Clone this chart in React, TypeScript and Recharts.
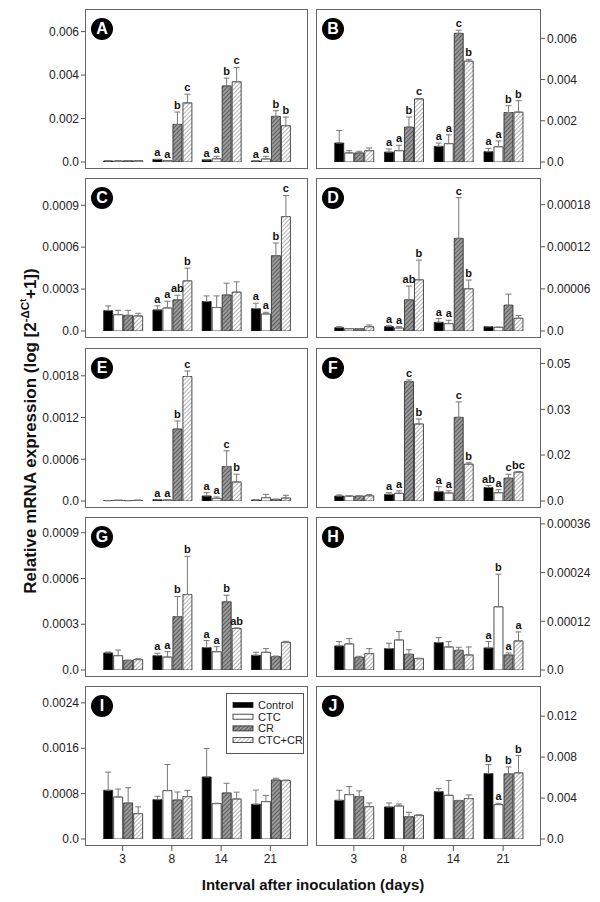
import React from 'react';
import { BarChart, Bar, XAxis, YAxis, ErrorBar, LabelList, Legend } from 'recharts';

const days = ['3', '8', '14', '21'];
const seriesNames = ['Control', 'CTC', 'CR', 'CTC+CR'];
const seriesKeys = ['c', 't', 'r', 'x'];

// rows: Control, CTC, CR, CTC+CR ; columns: day 3, 8, 14, 21
const meanA = [[0.00005, 0.00012, 0.0001, 0.00005], [0.00005, 0.00006, 0.00015, 0.00014], [0.00006, 0.00173, 0.0035, 0.0021], [0.00006, 0.00272, 0.00369, 0.00167]];
const errA = [[0, 0, 0, 0], [0, 0, 0.00011, 0.00012], [0, 0.00057, 0.00036, 0.00026], [0, 0.0004, 0.00066, 0.0004]];
const sigA = [['', 'a', 'a', 'a'], ['', 'a', 'a', 'a'], ['', 'b', 'b', 'b'], ['', 'c', 'c', 'b']];
const ticksA = [0, 0.002, 0.004, 0.006];
const tickTextA = ['0.0', '0.002', '0.004', '0.006'];

const meanB = [[0.00092, 0.00048, 0.00076, 0.0005], [0.00044, 0.00055, 0.00089, 0.00074], [0.00044, 0.00169, 0.00624, 0.0024], [0.00055, 0.00306, 0.00489, 0.00242]];
const errB = [[0.00061, 0.00015, 0.00016, 0.00016], [0.00011, 0.00026, 0.00043, 0.00028], [0.00008, 0.00049, 0.00015, 0.00033], [0.00013, 0.00002, 0.00009, 0.00055]];
const sigB = [['', 'a', 'a', 'a'], ['', 'a', 'a', 'a'], ['', 'b', 'c', 'b'], ['', 'c', 'b', 'b']];
const ticksB = [0, 0.002, 0.004, 0.006];
const tickTextB = ['0.0', '0.002', '0.004', '0.006'];

const meanC = [[0.000146, 0.000151, 0.000211, 0.00016], [0.000117, 0.000165, 0.000168, 0.000122], [0.000112, 0.000223, 0.000258, 0.000539], [0.000108, 0.000359, 0.000278, 0.000819]];
const errC = [[0.000034, 0.000029, 0.00004, 0.000039], [0.000031, 0.000048, 0.000083, 0.000012], [0.000036, 0.000033, 0.000084, 0.000091], [0.000019, 0.000091, 0.000074, 0.000151]];
const sigC = [['', 'a', '', 'a'], ['', 'a', '', 'a'], ['', 'ab', '', 'b'], ['', 'b', '', 'c']];
const ticksC = [0, 0.0003, 0.0006, 0.0009];
const tickTextC = ['0.0', '0.0003', '0.0006', '0.0009'];

const meanD = [[0.0000048, 0.0000062, 0.0000124, 0.0000062], [0.0000033, 0.0000043, 0.0000105, 0.0000053], [0.0000033, 0.0000444, 0.000132, 0.0000368], [0.0000062, 0.000073, 0.0000602, 0.0000181]];
const errD = [[0.0000014, 0.0000014, 0.0000053, 0], [0, 0.0000019, 0.0000048, 0], [0, 0.0000196, 0.000058, 0.0000157], [0.0000024, 0.000028, 0.0000124, 0.0000039]];
const sigD = [['', 'a', 'a', ''], ['', 'a', 'a', ''], ['', 'ab', 'c', ''], ['', 'b', 'b', '']];
const ticksD = [0, 0.00006, 0.00012, 0.00018];
const tickTextD = ['0.0', '0.00006', '0.00012', '0.00018'];

const meanE = [[0.000005, 0.000019, 0.000072, 0.000014], [0.00001, 0.000014, 0.000038, 0.000048], [0.000005, 0.001035, 0.000496, 0.000024], [0.00001, 0.00179, 0.000274, 0.000043]];
const errE = [[0, 0, 0.000048, 0], [0, 0, 0.00002, 0.000048], [0, 0.000115, 0.000226, 0], [0, 0.00008, 0.000111, 0.000039]];
const sigE = [['', 'a', 'a', ''], ['', 'a', 'a', ''], ['', 'b', 'c', ''], ['', 'c', 'b', '']];
const ticksE = [0, 0.0006, 0.0012, 0.0018];
const tickTextE = ['0.0', '0.0006', '0.0012', '0.0018'];

const meanF = [[0.0018, 0.00243, 0.0034, 0.0049], [0.0018, 0.0028, 0.0029, 0.003], [0.0018, 0.0434, 0.0304, 0.0083], [0.0019, 0.028, 0.0134, 0.0105]];
const errF = [[0.0004, 0.0006, 0.0018, 0.0007], [0, 0.0009, 0.0008, 0.0011], [0, 0.0006, 0.0056, 0.0014], [0.0005, 0.0018, 0.0005, 0.0002]];
const sigF = [['', 'a', 'a', 'ab'], ['', 'a', 'a', 'a'], ['', 'c', 'c', 'c'], ['', 'b', 'b', 'bc']];
const ticksF = [0, 0.0167, 0.0333, 0.05];
const tickTextF = ['0.0', '0.02', '0.03', '0.05'];

const meanG = [[0.000112, 0.000094, 0.000147, 0.0000963], [0.000094, 0.000085, 0.00012, 0.000116], [0.0000635, 0.00035, 0.000447, 0.0000876], [0.000068, 0.000495, 0.000272, 0.000182]];
const errG = [[0.000006, 0.000016, 0.000046, 0.00002], [0.000037, 0.000035, 0.000033, 0.000024], [0, 0.000132, 0.000043, 0.000004], [0.000006, 0.00025, 0.000004, 0.000006]];
const sigG = [['', 'a', 'a', ''], ['', 'a', 'a', ''], ['', 'b', 'b', ''], ['', 'b', 'ab', '']];
const ticksG = [0, 0.0003, 0.0006, 0.0009];
const tickTextG = ['0.0', '0.0003', '0.0006', '0.0009'];

const meanH = [[0.0000593, 0.0000527, 0.0000675, 0.0000544], [0.0000643, 0.0000741, 0.0000568, 0.0001557], [0.0000313, 0.0000387, 0.0000486, 0.0000371], [0.0000404, 0.000028, 0.0000371, 0.0000717]];
const errH = [[0.0000107, 0.0000132, 0.0000124, 0.0000156], [0.0000131, 0.0000206, 0.0000132, 0.0000803], [0.0000025, 0.0000113, 0.0000074, 0.0000049], [0.0000123, 0.000001, 0.0000197, 0.0000222]];
const sigH = [['', '', '', 'a'], ['', '', '', 'b'], ['', '', '', 'a'], ['', '', '', 'a']];
const ticksH = [0, 0.00012, 0.00024, 0.00036];
const tickTextH = ['0.0', '0.00012', '0.00024', '0.00036'];

const meanI = [[0.000859, 0.000694, 0.001094, 0.000612], [0.000741, 0.000853, 0.000624, 0.000659], [0.000635, 0.000688, 0.000812, 0.001041], [0.000447, 0.000747, 0.000706, 0.00103]];
const errI = [[0.00032, 0.00006, 0.0005, 0.00025], [0.00014, 0.00046, 0.000006, 0.00011], [0.00027, 0.00014, 0.00017, 0.00003], [0.00012, 0.00011, 0.00012, 0.00001]];
const sigI = [['', '', '', ''], ['', '', '', ''], ['', '', '', ''], ['', '', '', '']];
const ticksI = [0, 0.0008, 0.0016, 0.0024];
const tickTextI = ['0.0', '0.0008', '0.0016', '0.0024'];

const meanJ = [[0.00378, 0.00313, 0.00463, 0.00639], [0.00434, 0.00323, 0.00427, 0.00336], [0.00414, 0.00218, 0.00375, 0.00636], [0.00316, 0.00232, 0.00395, 0.00646]];
const errJ = [[0.00098, 0.00039, 0.00029, 0.00088], [0.00078, 0.00019, 0.00144, 0.00013], [0.00056, 0.00043, 0.00003, 0.00068], [0.00036, 0.00003, 0.00035, 0.00169]];
const sigJ = [['', '', '', 'b'], ['', '', '', 'a'], ['', '', '', 'b'], ['', '', '', 'b']];
const ticksJ = [0, 0.004, 0.008, 0.012];
const tickTextJ = ['0.0', '0.004', '0.008', '0.012'];

const panels = [
  { id: 'A', mean: meanA, err: errA, sig: sigA, ticks: ticksA, tickText: tickTextA, max: 0.00704 },
  { id: 'B', mean: meanB, err: errB, sig: sigB, ticks: ticksB, tickText: tickTextB, max: 0.00742 },
  { id: 'C', mean: meanC, err: errC, sig: sigC, ticks: ticksC, tickText: tickTextC, max: 0.001095 },
  { id: 'D', mean: meanD, err: errD, sig: sigD, ticks: ticksD, tickText: tickTextD, max: 0.000218 },
  { id: 'E', mean: meanE, err: errE, sig: sigE, ticks: ticksE, tickText: tickTextE, max: 0.0022 },
  { id: 'F', mean: meanF, err: errF, sig: sigF, ticks: ticksF, tickText: tickTextF, max: 0.0556 },
  { id: 'G', mean: meanG, err: errG, sig: sigG, ticks: ticksG, tickText: tickTextG, max: 0.001003 },
  { id: 'H', mean: meanH, err: errH, sig: sigH, ticks: ticksH, tickText: tickTextH, max: 0.000377 },
  { id: 'I', mean: meanI, err: errI, sig: sigI, ticks: ticksI, tickText: tickTextI, max: 0.002697 },
  { id: 'J', mean: meanJ, err: errJ, sig: sigJ, ticks: ticksJ, tickText: tickTextJ, max: 0.01495 },
];

const rowTops = [9, 178, 348, 517, 686];
const FONT = '"Liberation Sans", Arial, sans-serif';

function buildRows(mean: number[][], err: number[][], sig: string[][]) {
  return days.map((d, i) => {
    const row: any = { day: d };
    seriesKeys.forEach((k, s) => {
      row[k] = mean[s][i];
      row[k + 'E'] = err[s][i];
      row[k + 'S'] = sig[s][i];
    });
    return row;
  });
}

const fillsFor = (id: string) => ['#000000', '#ffffff', `url(#hd-${id})`, `url(#hl-${id})`];

const Hatches = ({ id }: { id: string }) => (
  <defs>
    <pattern id={`hd-${id}`} patternUnits="userSpaceOnUse" width="3" height="3" patternTransform="rotate(45)">
      <rect width="3" height="3" fill="#9a9a9a" />
      <line x1="0" y1="0" x2="0" y2="3" stroke="#333" strokeWidth="1.2" />
    </pattern>
    <pattern id={`hl-${id}`} patternUnits="userSpaceOnUse" width="3" height="3" patternTransform="rotate(45)">
      <rect width="3" height="3" fill="#ffffff" />
      <line x1="0" y1="0" x2="0" y2="3" stroke="#666" strokeWidth="1" />
    </pattern>
  </defs>
);

const sigRenderer = (rows: any[], k: string) => (props: any) => {
  const { x, y, width, height, value, index } = props;
  if (!value) return null;
  const row = rows[index];
  const v = row[k];
  const e = row[k + 'E'];
  const ppu = v > 0 ? Number(height) / v : 0;
  const ty = Number(y) - e * ppu - 3;
  return (
    <text x={Number(x) + Number(width) / 2} y={ty} textAnchor="middle" fontSize={11} fontWeight="bold" fill="#111" fontFamily={FONT}>
      {value}
    </text>
  );
};

const LegendBox = ({ id }: { id: string }) => {
  const fills = fillsFor(id);
  return (
    <svg width={78} height={61} style={{ display: 'block' }}>
      <rect x={0.5} y={0.5} width={77} height={60} fill="#fff" stroke="#555" />
      {seriesNames.map((n, i) => (
        <g key={n}>
          <rect x={7} y={9.5 + i * 11.7} width={20} height={5} fill={fills[i]} stroke="#222" strokeWidth={0.8} />
          <text x={32} y={16 + i * 11.7} fontSize={11} fill="#222" fontFamily={FONT}>{n}</text>
        </g>
      ))}
    </svg>
  );
};

function Panel({ p, idx }: { p: any; idx: number }) {
  const col = idx % 2;
  const row = Math.floor(idx / 2);
  const isBottom = row === 4;
  const left = col === 0 ? 0 : 310;
  const width = col === 0 ? 310 : 290;
  const top = rowTops[row] - 5;
  const xh = isBottom ? 30 : 16;
  const height = 5 + 160 + xh;
  const plotLeft = col === 0 ? 85 : 6;
  const plotW = col === 0 ? 223 : 225;
  const rows = buildRows(p.mean, p.err, p.sig);
  const fills = fillsFor(p.id);
  return (
    <div style={{ position: 'absolute', left, top, width, height }}>
      <BarChart
        width={width}
        height={height}
        data={rows}
        margin={col === 0 ? { top: 5, right: 2, left: 0, bottom: 0 } : { top: 5, right: 0, left: 6, bottom: 0 }}
        barCategoryGap="11.5%"
        barGap={1}
        style={{ fontFamily: FONT }}
      >
        <Hatches id={p.id} />
        <XAxis
          dataKey="day"
          padding={{ left: 13, right: 13 }}
          axisLine={false}
          tickLine={{ stroke: '#555' }}
          tickSize={5}
          tickMargin={3}
          height={xh}
          interval={0}
          tick={isBottom ? { fill: '#222', fontSize: 12 } : false}
        />
        <YAxis
          orientation={col === 0 ? 'left' : 'right'}
          width={col === 0 ? 85 : 59}
          type="number"
          domain={[0, p.max]}
          allowDataOverflow
          ticks={p.ticks}
          interval={0}
          tickFormatter={(v: number) => p.tickText[p.ticks.indexOf(v)] ?? String(v)}
          axisLine={false}
          tickLine={{ stroke: '#555' }}
          tickSize={4}
          tickMargin={2}
          tick={{ fill: '#222', fontSize: 12 }}
          padding={{ top: 0, bottom: 7 }}
        />
        {seriesKeys.map((k, s) => (
          <Bar key={k} dataKey={k} name={seriesNames[s]} fill={fills[s]} stroke="#222" strokeWidth={0.8} isAnimationActive={false}>
            <ErrorBar dataKey={(d: any) => [0, d[k + 'E']]} width={3} stroke="#777" strokeWidth={1} direction="y" />
            <LabelList dataKey={k + 'S'} content={sigRenderer(rows, k)} />
          </Bar>
        ))}
        {p.id === 'I' && (
          <Legend
            layout="vertical"
            align="center"
            verticalAlign="middle"
            wrapperStyle={{ left: 226, top: 693 - top, width: 78, height: 61 }}
            content={() => <LegendBox id={p.id} />}
          />
        )}
      </BarChart>
      <div
        style={{
          position: 'absolute',
          left: plotLeft,
          top: 5,
          width: plotW,
          height: 160,
          border: '1px solid #666',
          boxSizing: 'border-box',
          pointerEvents: 'none',
        }}
      />
      <div
        style={{
          position: 'absolute',
          left: plotLeft + 6,
          top: 14,
          width: 22,
          height: 22,
          borderRadius: '50%',
          background: '#000',
          color: '#fff',
          fontFamily: FONT,
          fontWeight: 'bold',
          fontSize: 16,
          lineHeight: '22px',
          textAlign: 'center',
        }}
      >
        {p.id}
      </div>
    </div>
  );
}

export default function App() {
  return (
    <div style={{ position: 'absolute', left: 0, top: 0, width: 600, height: 902, background: '#fff', fontFamily: FONT }}>
      <svg width={600} height={902} style={{ position: 'absolute', left: 0, top: 0 }}>
        <text transform="translate(36,431) rotate(-90)" textAnchor="middle" fontSize={17} fontWeight="bold" fill="#111" fontFamily={FONT}>
          Relative mRNA expression (log [2
          <tspan dy={-7} fontSize={11.5}>-ΔC</tspan>
          <tspan dy={-3} fontSize={8.5}>t</tspan>
          <tspan dy={10} fontSize={17}>+1])</tspan>
        </text>
        <text x={313} y={890} textAnchor="middle" fontSize={15} fontWeight="bold" fill="#111" fontFamily={FONT}>
          Interval after inoculation (days)
        </text>
      </svg>
      {panels.map((p, i) => (
        <Panel key={p.id} p={p} idx={i} />
      ))}
    </div>
  );
}
